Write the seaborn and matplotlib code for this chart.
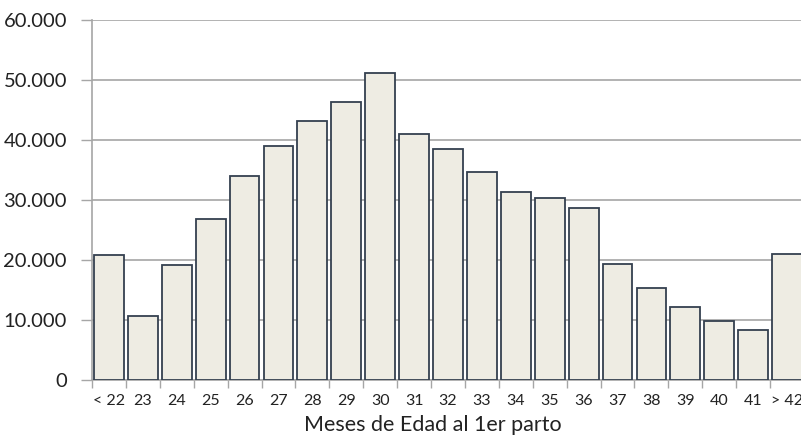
import matplotlib
matplotlib.use("Agg")
import matplotlib.pyplot as plt
import seaborn as sns
import pandas as pd
import numpy as np
from matplotlib.ticker import FuncFormatter, FixedLocator

categories = ["< 22", "23", "24", "25", "26", "27", "28", "29", "30", "31", "32",
              "33", "34", "35", "36", "37", "38", "39", "40", "41", "> 42"]
values = [20900, 10600, 19200, 26800, 34000, 39000, 43200, 46300, 51100, 41000, 38500,
          34700, 31300, 30300, 28700, 19400, 15400, 12200, 9800, 8300, 21000]
y_ticks = [0, 10000, 20000, 30000, 40000, 50000, 60000]

sns.set_style("white")
plt.rcParams['font.family'] = ['Lato', 'DejaVu Sans']

df = pd.DataFrame({"cat": categories, "val": values})

fig = plt.figure(figsize=(8.01, 4.37), dpi=100)
ax_w = 712
ax = fig.add_axes([92/801, 57/437, ax_w/801, 360/437])

sns.barplot(data=df, x="cat", y="val", ax=ax, color="#EEECE3", width=0.88,
            edgecolor="#34404F", linewidth=1.3, saturation=1, zorder=3)

ax.set_ylim(0, 60000)
ax.set_xlim(-0.5, len(categories) - 0.5)
ax.set_yticks(y_ticks)
ax.yaxis.set_major_formatter(FuncFormatter(lambda v, p: f"{int(v):,}".replace(",", ".")))
ax.yaxis.grid(True, color="#A6A6A6", linewidth=1.2, zorder=0)
ax.set_axisbelow(True)

ax.tick_params(axis="y", which="both", left=True, length=8, width=1, color="#A6A6A6",
               labelsize=14.5, labelcolor="#222222", pad=10)
ax.set_xticks(range(len(categories)))
ax.set_xticklabels(categories)
ax.tick_params(axis="x", which="major", length=0, labelsize=11.5, labelcolor="#222222", pad=10)
ax.xaxis.set_minor_locator(FixedLocator(np.arange(-0.5, len(categories), 1.0)))
ax.tick_params(axis="x", which="minor", bottom=True, length=6, width=1, color="#A6A6A6")

for s in ["top", "right"]:
    ax.spines[s].set_visible(False)
for s in ["left", "bottom"]:
    ax.spines[s].set_color("#A6A6A6")
    ax.spines[s].set_linewidth(1.2)

ax.set_ylabel("")
ax.set_xlabel("Meses de Edad al 1er parto", fontsize=15.5, color="#222222")
ax.xaxis.set_label_coords((433 - 92) / ax_w, -35 / 360)

fig.savefig("out.png", dpi=100, facecolor="white")
